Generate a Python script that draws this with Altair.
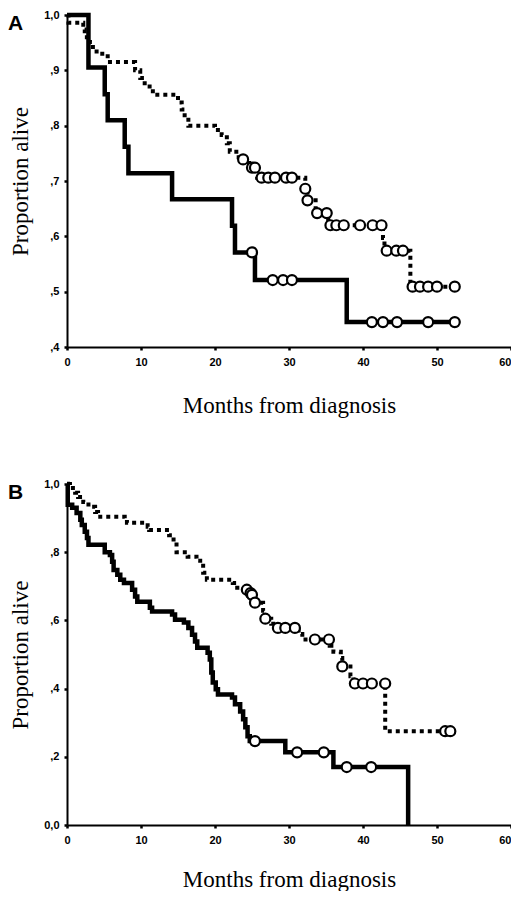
import altair as alt
import pandas as pd

# ---------------- data ----------------
x_ticks = [0, 10, 20, 30, 40, 50, 60]
a_y_ticks = [0.4, 0.5, 0.6, 0.7, 0.8, 0.9, 1.0]
b_y_ticks = [0.0, 0.2, 0.4, 0.6, 0.8, 1.0]
panel_letters = ["A", "B"]
x_title = "Months from diagnosis"
y_title = "Proportion alive"

# Panel A - solid curve
a_solid_t = [0, 2.9, 5.1, 5.5, 7.8, 8.3, 14.2, 22.3, 22.7, 25.4, 37.8, 52.5]
a_solid_s = [1.0, 0.905, 0.857, 0.810, 0.762, 0.714, 0.667, 0.619, 0.571, 0.521, 0.445, 0.445]
a_solid_cens_t = [25.0, 27.8, 29.2, 30.4, 41.2, 42.7, 44.6, 48.8, 52.4]
a_solid_cens_s = [0.571, 0.521, 0.521, 0.521, 0.445, 0.445, 0.445, 0.445, 0.445]

# Panel A - dotted curve
a_dot_t = [0, 0.2, 2.2, 2.4, 3.1, 3.5, 4.0, 5.5, 9.2, 9.9, 10.5, 11.6, 15.0, 15.5, 15.9,
           16.4, 20.0, 20.9, 21.6, 22.0, 23.2, 24.6, 25.7, 32.2, 32.5, 33.6, 35.3, 42.7,
           42.9, 46.4, 52.6]
a_dot_s = [1.0, 0.986, 0.974, 0.96, 0.951, 0.942, 0.93, 0.915, 0.90, 0.886, 0.871, 0.856,
           0.842, 0.829, 0.815, 0.80, 0.792, 0.783, 0.768, 0.753, 0.739, 0.724, 0.706,
           0.686, 0.665, 0.642, 0.62, 0.597, 0.574, 0.509, 0.509]
a_dot_cens_t = [23.8, 25.0, 25.4, 26.3, 27.2, 28.1, 29.6, 30.4, 32.2, 32.5, 33.8, 35.1,
                35.6, 36.4, 37.4, 39.6, 41.3, 42.5, 43.2, 44.5, 45.4, 46.7, 47.7, 48.8,
                50.0, 52.4]
a_dot_cens_s = [0.739, 0.724, 0.724, 0.706, 0.706, 0.706, 0.706, 0.706, 0.686, 0.665,
                0.642, 0.642, 0.62, 0.62, 0.62, 0.62, 0.62, 0.62, 0.574, 0.574, 0.574,
                0.509, 0.509, 0.509, 0.509, 0.509]

# Panel B - solid curve
b_solid_t = [0, 0.1, 0.7, 1.3, 1.8, 2.0, 2.4, 2.7, 2.9, 5.1, 5.8, 6.1, 6.3, 6.8, 7.2, 7.7,
             8.8, 9.2, 9.5, 11.2, 11.5, 14.2, 14.6, 15.8, 16.4, 16.9, 17.3, 17.6, 19.0,
             19.3, 19.5, 19.7, 20.1, 20.4, 22.3, 22.7, 23.4, 23.8, 24.1, 24.4, 24.7,
             29.5, 36.0, 46.1]
b_solid_s = [1.0, 0.939, 0.93, 0.915, 0.895, 0.88, 0.86, 0.842, 0.822, 0.80, 0.792, 0.772,
             0.748, 0.734, 0.719, 0.71, 0.69, 0.67, 0.655, 0.637, 0.626, 0.617, 0.602,
             0.594, 0.578, 0.558, 0.538, 0.52, 0.505, 0.485, 0.447, 0.418, 0.398, 0.383,
             0.374, 0.354, 0.333, 0.31, 0.287, 0.26, 0.246, 0.213, 0.17, 0.0]
b_solid_cens_t = [25.4, 31.1, 34.7, 37.8, 41.1]
b_solid_cens_s = [0.246, 0.213, 0.213, 0.17, 0.17]

# Panel B - dotted curve
b_dot_t = [0, 0.4, 1.1, 1.5, 2.2, 2.9, 3.8, 4.2, 7.8, 8.1, 10.9, 11.1, 13.8, 14.4, 14.8,
           16.3, 17.5, 18.0, 18.4, 18.9, 22.4, 23.0, 24.0, 25.0, 25.3, 26.5, 26.8, 27.6,
           28.3, 31.3, 31.8, 35.5, 36.0, 37.0, 37.2, 38.3, 38.7, 43.0, 52.0]
b_dot_s = [1.0, 0.988, 0.974, 0.962, 0.947, 0.933, 0.918, 0.904, 0.895, 0.886, 0.875,
           0.865, 0.85, 0.83, 0.80, 0.787, 0.775, 0.76, 0.74, 0.719, 0.71, 0.696, 0.685,
           0.675, 0.652, 0.628, 0.605, 0.59, 0.578, 0.56, 0.544, 0.526, 0.508, 0.49,
           0.465, 0.436, 0.415, 0.275, 0.275]
b_dot_cens_t = [24.3, 24.8, 25.0, 25.4, 26.8, 28.5, 29.5, 30.8, 33.5, 35.4, 37.2, 38.9,
                40.0, 41.2, 43.0, 51.1, 51.8]
b_dot_cens_s = [0.69, 0.68, 0.675, 0.652, 0.605, 0.578, 0.578, 0.578, 0.544, 0.544, 0.465,
                0.415, 0.415, 0.415, 0.415, 0.275, 0.275]

# ---------------- chart ----------------
PLOT_W = 444


def panel(solid_t, solid_s, sct, scs, dot_t, dot_s, dct, dcs, ydomain, yticks, letter, h,
          xtitle_y):
    xs = alt.Scale(domain=[0, 60], nice=False, zero=False)
    ys = alt.Scale(domain=ydomain, nice=False, zero=False)
    xaxis = alt.Axis(values=x_ticks, format="d", title=x_title, titleX=PLOT_W / 2,
                     titleY=xtitle_y, titleBaseline="alphabetic", titleAlign="center",
                     labelFlush=False,
                     labelAlign=alt.condition("datum.value >= 60", alt.value("right"),
                                              alt.value("center")))
    yaxis = alt.Axis(values=yticks, title=y_title, labelFlush=False,
                     labelExpr="datum.value >= 1 ? '1,0' : (datum.value == 0 ? '0,0' : ',' + round(datum.value * 10))",
                     titleAngle=-90, titleX=-40, titleY=h / 2,
                     titleBaseline="alphabetic", titleAlign="center")
    X = alt.X("t:Q", scale=xs, axis=xaxis)
    Y = alt.Y("s:Q", scale=ys, axis=yaxis)

    solid = alt.Chart(pd.DataFrame({"t": solid_t, "s": solid_s})).mark_line(
        interpolate="step-after", color="black", strokeWidth=4.5, strokeJoin="miter",
        strokeCap="butt").encode(x=X, y=Y)
    dotted = alt.Chart(pd.DataFrame({"t": dot_t, "s": dot_s})).mark_line(
        interpolate="step-after", color="black", strokeWidth=4, strokeDash=[4, 4],
        strokeCap="butt", strokeJoin="miter").encode(x=X, y=Y)
    cens = alt.Chart(pd.DataFrame({"t": sct + dct, "s": scs + dcs})).mark_point(
        shape="circle", filled=True, fill="white", stroke="black", strokeWidth=2.2,
        size=100, opacity=1).encode(x=X, y=Y)
    lab = alt.Chart(pd.DataFrame({"label": [letter]})).mark_text(
        align="left", baseline="alphabetic", fontSize=21, fontWeight="bold",
        font="Liberation Sans", color="black").encode(
        x=alt.value(-59), y=alt.value(15), text="label:N")
    return alt.layer(solid, dotted, cens, lab).properties(width=PLOT_W, height=h)


pa = panel(a_solid_t, a_solid_s, a_solid_cens_t, a_solid_cens_s,
           a_dot_t, a_dot_s, a_dot_cens_t, a_dot_cens_s,
           [0.4, 1.0], a_y_ticks, panel_letters[0], 332, 65)
pb = panel(b_solid_t, b_solid_s, b_solid_cens_t, b_solid_cens_s,
           b_dot_t, b_dot_s, b_dot_cens_t, b_dot_cens_s,
           [0.0, 1.0], b_y_ticks, panel_letters[1], 341, 61)

chart = alt.vconcat(pa, pb, spacing=58).properties(
    padding={"left": 0, "top": -2, "right": -2, "bottom": 0}, background="white"
).configure_view(stroke=None).configure_axis(
    grid=False, domainColor="black", domainWidth=2, tickColor="black", tickWidth=2.5,
    tickSize=3, labelPadding=5, labelFont="Liberation Sans", labelFontWeight="bold",
    labelFontSize=11, labelColor="black", titleFont="Liberation Serif",
    titleFontSize=23, titleFontWeight="normal", titleColor="black"
).configure_axisX(labelPadding=6)

chart.save("out.html", embed_options={"renderer": "svg", "actions": False})
